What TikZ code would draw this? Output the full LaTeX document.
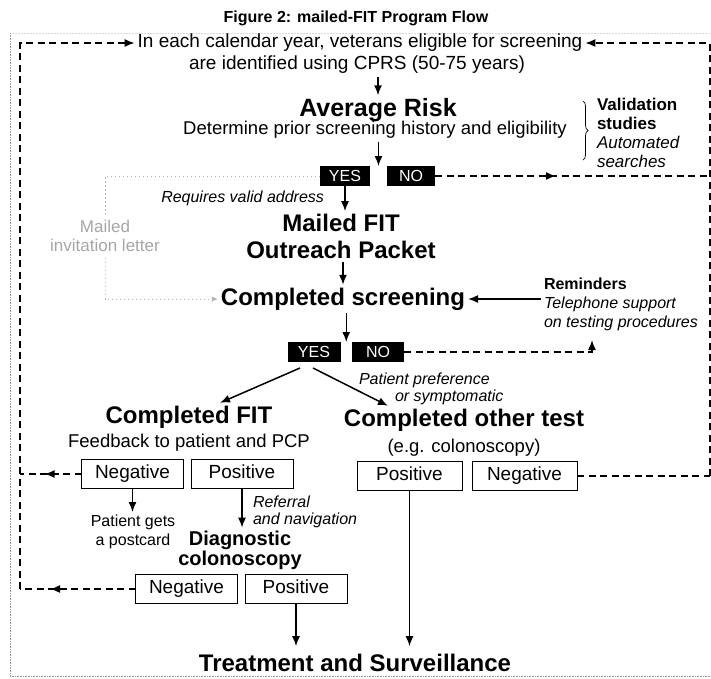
\documentclass[tikz,border=0pt]{standalone}
\usepackage{fontspec}
\setmainfont{Liberation Sans}
\usetikzlibrary{arrows.meta,calc,decorations.pathreplacing,decorations.markings}

\begin{document}
\begin{tikzpicture}[
        x=1pt, y=-1pt,
        every node/.style={inner sep=0pt, outer sep=3pt},
        plain/.style={font=\fontsize{19pt}{22pt}\selectfont, align=center},
        sub/.style={font=\fontsize{18.5pt}{22pt}\selectfont, align=center},
        heading/.style={font=\fontsize{24pt}{27pt}\selectfont\bfseries, align=center},
        minor/.style={font=\fontsize{16pt}{19pt}\selectfont, align=center},
        side/.style={font=\fontsize{16pt}{19pt}\selectfont, align=left},
        remark/.style={font=\fontsize{16pt}{17pt}\selectfont\itshape, align=left},
        answer/.style={fill=black, text=white, font=\fontsize{16pt}{18pt}\selectfont, minimum width=50pt, minimum height=20pt, text height=11.5pt, text depth=0pt, outer sep=0pt},
        result/.style={draw, line width=1pt, font=\fontsize{19pt}{22pt}\selectfont, minimum width=102pt, minimum height=29pt, text height=13.5pt, text depth=4pt, outer sep=0pt},
        flow/.style={-{Latex[length=10pt,width=8pt]}, line width=1.5pt},
        recall/.style={line width=1.5pt, dash pattern=on 7pt off 4.5pt},
        letter/.style={draw=black!30, line width=0.8pt, dash pattern=on 1.5pt off 2.5pt},
        midarrow/.style={postaction={decorate}, decoration={markings, mark=at position #1 with {\arrow{Latex[length=10pt,width=8pt]}}}}
    ]
        \useasboundingbox (0,0) rectangle (711,678);

        % Scanned page frame.
        \draw[black!15, line width=0.5pt, densely dotted] (10,33) -- (711,33);
        \draw[black!40, line width=0.6pt, densely dotted] (10,33) -- (10,676) -- (711,676);

        % Title and selection of veterans.
        \node[font=\fontsize{16pt}{18pt}\selectfont\bfseries] (title) at (356,18) {Figure 2: mailed-FIT Program Flow};
        \node[plain] (intro1) at (360,43) {In each calendar year, veterans eligible for screening};
        \node[plain] (intro2) at (357,65) {are identified using CPRS (50-75 years)};
        \node[heading, font=\fontsize{25pt}{27pt}\selectfont\bfseries] (avgrisk) at (378,110) {Average Risk};
        \node[sub] (determine) at (375,130) {Determine prior screening history and eligibility};
        \draw[decorate, decoration={brace, amplitude=5pt}, line width=0.7pt] (583,101) -- (583,160);
        \node[side, font=\fontsize{17pt}{19pt}\selectfont, anchor=west] (validation) at (594,133) {\textbf{Validation}\\\textbf{studies}\\\textit{Automated}\\\textit{searches}};
        \node[answer] (yes1) at (345,176) {YES};
        \node[answer, minimum width=48pt] (no1) at (411,176) {NO};

        % Mailed outreach.
        \node[remark, anchor=east] (address) at (327,198) {Requires valid address};
        \node[font=\fontsize{17pt}{19pt}\selectfont, text=black!35, align=center, outer sep=6pt] (letter) at (105,236) {Mailed\\invitation letter};
        \node[heading] (mailed) at (341,236.5) {Mailed FIT\\Outreach Packet};
        \node[heading] (screen) at (343,299) {Completed screening};
        \node[side, anchor=west] (reminders) at (541,304) {\textbf{Reminders}\\\textit{Telephone support}\\\textit{on testing procedures}};
        \node[answer, minimum width=53pt] (yes2) at (314,352) {YES};
        \node[answer, minimum width=52pt] (no2) at (378,352) {NO};
        \node[remark, anchor=north west] (preference) at (356,370) {Patient preference\\\hspace*{36pt}or symptomatic};

        % Test results.
        \node[heading] (fit) at (189,417) {Completed FIT};
        \node[heading] (other) at (464,420) {Completed other test};
        \node[sub] (feedback) at (189,443) {Feedback to patient and PCP};
        \node[sub] (eg) at (464,448) {(e.g. colonoscopy)};
        \node[result] (fitneg) at (132.5,474) {Negative};
        \node[result] (fitpos) at (242,474) {Positive};
        \node[result, minimum width=105pt] (othpos) at (409.5,476) {Positive};
        \node[result, minimum width=105pt] (othneg) at (524.5,476) {Negative};
        \node[minor] (postcard) at (133,532) {Patient gets\\a postcard};
        \node[remark, anchor=west] (referral) at (250,511.5) {Referral\\and navigation};
        \node[heading, font=\fontsize{20pt}{20pt}\selectfont\bfseries] (diag) at (240,550) {Diagnostic\\colonoscopy};
        \node[result] (dneg) at (186.5,589) {Negative};
        \node[result] (dpos) at (296,589) {Positive};
        \node[heading, outer sep=8pt] (treat) at (355,663) {Treatment and Surveillance};

        % Main flow.
        \coordinate (gap1) at ($(yes1.north east)!0.5!(no1.north west)$);
        \coordinate (gap2) at ($(yes2.north east)!0.5!(no2.north west)$);
        \draw[flow] (intro2.south -| avgrisk.north) -- (avgrisk.north);
        \draw[flow] (determine.south -| gap1) -- (gap1);
        \draw[flow] (yes1.south) -- (yes1.south |- mailed.north);
        \draw[flow] (mailed.south -| screen.north) -- (screen.north);
        \draw[flow] (reminders.west |- screen.east) -- (screen.east);
        \draw[flow] (screen.south -| gap2) -- (gap2);
        \draw[flow] ($(yes2.south)+(-14,6)$) -- ($(fit.north)+(31,0)$);
        \draw[flow] ($(yes2.south)+(-1,6)$) -- ($(other.north)+(-76,0)$);
        \draw[flow] (fitneg.south) -- (fitneg.south |- postcard.north);
        \draw[flow] (fitpos.south) -- (fitpos.south |- diag.north);
        \draw[flow] (dpos.south) -- (dpos.south |- treat.north);
        \draw[flow] (othpos.south) -- (othpos.south |- treat.north);

        % Invitation letter.
        \draw[letter] (yes1.west) -| (letter.north);
        \draw[letter, -{Latex[length=6pt,width=5pt]}] (letter.south) |- (screen.west);

        % Back to the yearly selection.
        \coordinate (lefttop) at (20,43);
        \coordinate (leftbot) at (20,589);
        \coordinate (righttop) at (710,43);
        \coordinate (rightbot) at (710,476);
        \coordinate (remfoot) at (592,340);
        \draw[recall, -{Latex[length=10pt,width=8pt]}] (leftbot) -- (lefttop) -- (intro1.west);
        \draw[recall, midarrow=0.74] (dneg.west) -- (leftbot);
        \draw[recall, midarrow=0.6] (fitneg.west) -- (fitneg.west -| leftbot);
        \draw[recall, -{Latex[length=10pt,width=8pt]}] (rightbot) -- (righttop) -- (intro1.east);
        \draw[recall] (othneg.east) -- (rightbot);
        \draw[recall, midarrow=0.44] (no1.east) -- (no1.east -| righttop);
        \draw[recall, -{Latex[length=10pt,width=8pt]}] (no2.east) -| (remfoot);
    \end{tikzpicture}
\end{document}
